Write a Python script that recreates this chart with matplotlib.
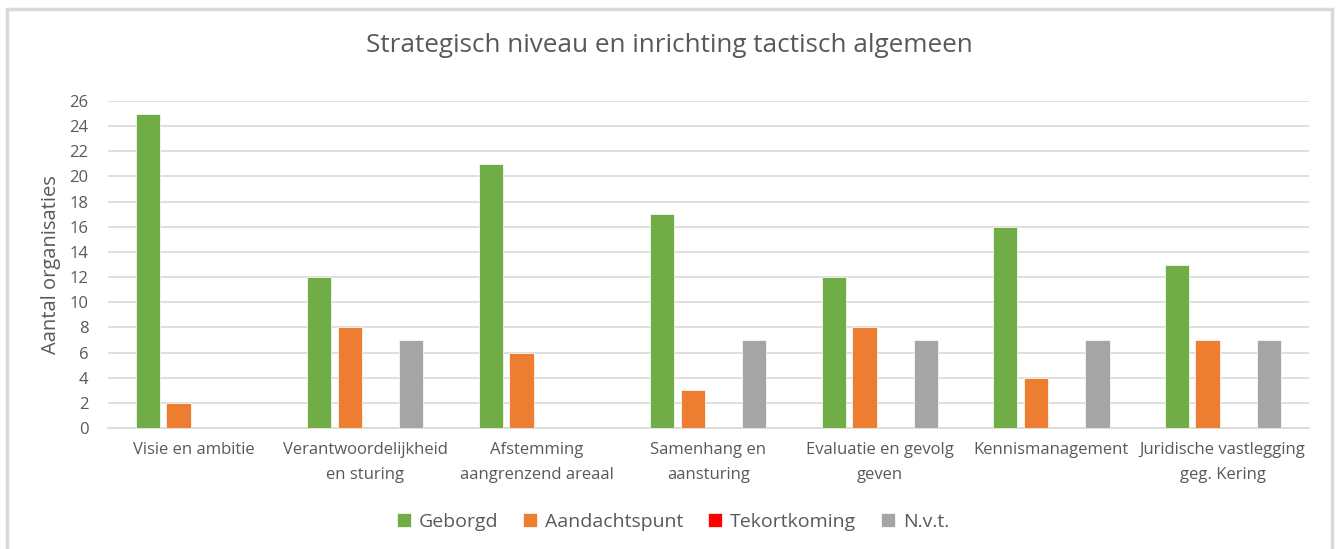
import numpy as np
import matplotlib.pyplot as plt
from matplotlib.patches import Rectangle

plt.rcParams['font.family'] = ['Open Sans', 'DejaVu Sans']

# data
categories = ['Visie en ambitie', 'Verantwoordelijkheid\nen sturing', 'Afstemming\naangrenzend areaal',
              'Samenhang en\naansturing', 'Evaluatie en gevolg\ngeven', 'Kennismanagement',
              'Juridische vastlegging\ngeg. Kering']
geborgd = [25, 12, 21, 17, 12, 16, 13]
aandachtspunt = [2, 8, 6, 3, 8, 4, 7]
tekortkoming = [0, 0, 0, 0, 0, 0, 0]
nvt = [0, 7, 0, 7, 7, 7, 7]

series = [('Geborgd', geborgd, '#70AD47'),
          ('Aandachtspunt', aandachtspunt, '#ED7D31'),
          ('Tekortkoming', tekortkoming, '#FF0000'),
          ('N.v.t.', nvt, '#A5A5A5')]

fig = plt.figure(figsize=(13.38, 5.49), dpi=100)
ax = fig.add_axes([0.0807, 0.2204, 0.8973, 0.5956])

# light grey frame round the chart
fig.patches.append(Rectangle((0.0055, -0.02), 0.990, 1.004, transform=fig.transFigure,
                             fill=False, edgecolor='#D9D9D9', linewidth=2.5))

x = np.arange(len(categories))
step = 0.179
width = 0.142
for i, (name, vals, col) in enumerate(series):
    ax.bar(x + (i - 1.5) * step, vals, width, color=col, label=name,
           edgecolor='white', linewidth=0.5, zorder=3)

ax.set_xlim(-0.5, len(categories) - 0.5)
ax.set_ylim(0, 26)
ax.set_yticks(range(0, 27, 2))
ax.set_xticks(x)
ax.set_xticklabels(categories, fontsize=12, color='#595959', linespacing=1.75)
ax.tick_params(axis='y', labelsize=12, labelcolor='#595959', length=0, pad=14)
ax.tick_params(axis='x', length=0, pad=10)
ax.grid(axis='y', color='#D9D9D9', linewidth=1.2, zorder=0)
for s in ['top', 'right', 'left']:
    ax.spines[s].set_visible(False)
ax.spines['bottom'].set_color('#D9D9D9')
ax.spines['bottom'].set_linewidth(1.2)

ax.set_ylabel('Aantal organisaties', fontsize=14.5, color='#595959', labelpad=6)
fig.suptitle('Strategisch niveau en inrichting tactisch algemeen', fontsize=18.8,
             color='#595959', y=0.94)

fig.legend(*ax.get_legend_handles_labels(), loc='center', bbox_to_anchor=(0.503, 0.05),
           ncol=4, frameon=False, fontsize=14, labelcolor='#595959', handlelength=0.7,
           handleheight=0.7, handletextpad=0.4, columnspacing=1.3)

fig.savefig('out.png', dpi=100)
